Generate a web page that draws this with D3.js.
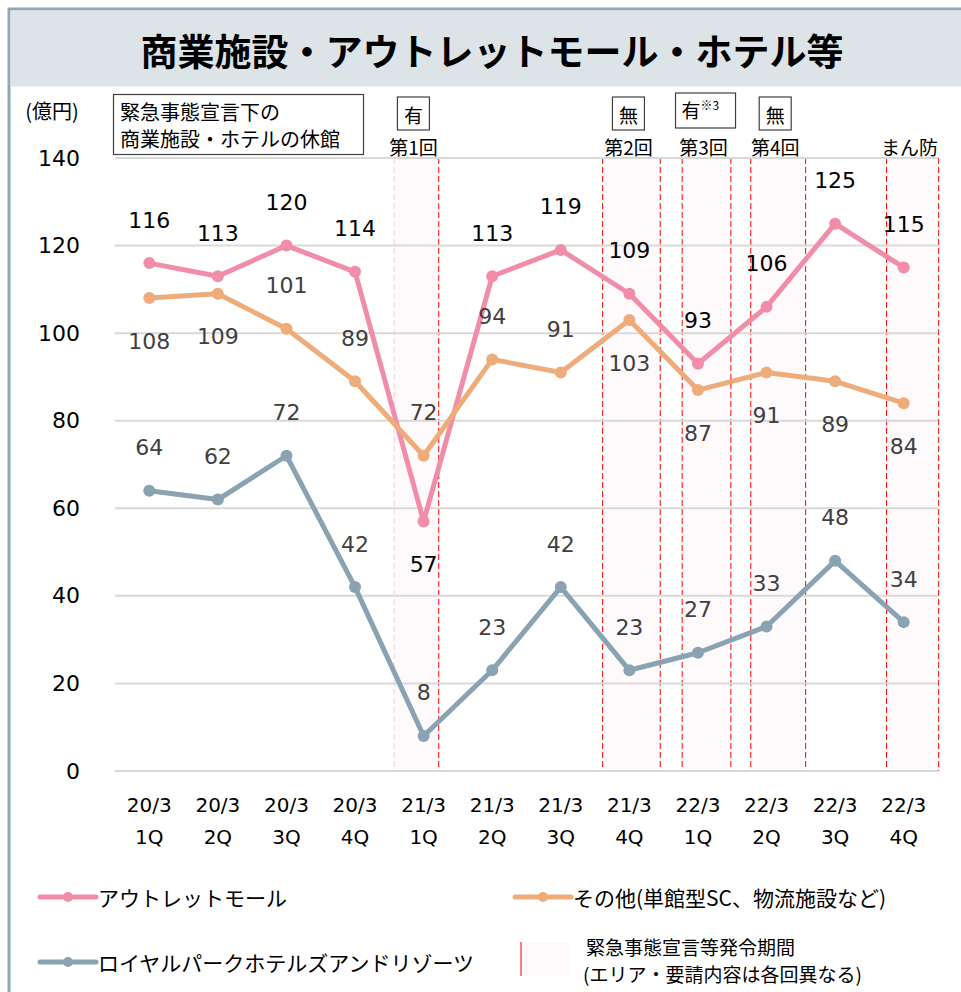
<!DOCTYPE html>
<html lang="ja">
<head>
  <meta charset="UTF-8">
  <title>商業施設・アウトレットモール・ホテル等</title>
  <script src="https://d3js.org/d3.v7.min.js"></script>
  <style>
    body { margin: 0; background: #fff; }
    svg { display: block; font-family: "DejaVu Sans", "Noto Sans CJK JP", sans-serif; }
    .jp { font-family: "Noto Sans CJK JP", sans-serif; }
    .grid line { stroke: #d9d9d9; stroke-width: 2px; }
    .line { fill: none; stroke-width: 5px; stroke-linejoin: round; }
  </style>
</head>
<body>
  <svg width="961" height="992"></svg>

  <script>
    // data
    const quarters = ["20/3 1Q", "20/3 2Q", "20/3 3Q", "20/3 4Q", "21/3 1Q", "21/3 2Q",
                      "21/3 3Q", "21/3 4Q", "22/3 1Q", "22/3 2Q", "22/3 3Q", "22/3 4Q"];
    const outlet = [116, 113, 120, 114, 57, 113, 119, 109, 93, 106, 125, 115];
    const others = [108, 109, 101, 89, 72, 94, 91, 103, 87, 91, 89, 84];
    const hotels = [64, 62, 72, 42, 8, 23, 42, 23, 27, 33, 48, 34];
    // 1 = label above the point, -1 = below
    const outletSide = [1, 1, 1, 1, -1, 1, 1, 1, 1, 1, 1, 1];
    const othersSide = [-1, -1, 1, 1, 1, 1, 1, -1, -1, -1, -1, -1];
    const hotelsSide = [1, 1, 1, 1, 1, 1, 1, 1, 1, 1, 1, 1];
    const yTicks = [0, 20, 40, 60, 80, 100, 120, 140];

    // emergency periods, in quarter units from 20/3 1Q start
    const emStart = [4.07, 7.11, 8.27, 9.27, 11.25];
    const emEnd = [4.72, 7.95, 8.98, 10.07, 12.01];
    const emName = ["第1回", "第2回", "第3回", "第4回", "まん防"];
    const emMark = ["有", "無", "有", "無", ""];
    const emNote = ["", "", "※3", "", ""];

    const series = [
      { name: "アウトレットモール", values: outlet, side: outletSide, color: "#f28da9", text: "#000" },
      { name: "その他(単館型SC、物流施設など)", values: others, side: othersSide, color: "#edac7a", text: "#404040" },
      { name: "ロイヤルパークホテルズアンドリゾーツ", values: hotels, side: hotelsSide, color: "#89a3b2", text: "#404040" }
    ];

    const svg = d3.select("svg");
    const pLeft = 115, pRight = 938, pTop = 158, pBottom = 771;

    const x = d3.scaleBand().domain(quarters).range([pLeft, pRight]);
    const t = d3.scaleLinear().domain([0, quarters.length]).range([pLeft, pRight]);
    const y = d3.scaleLinear().domain([0, 140]).range([pBottom, pTop]);

    // frame + title
    svg.append("rect").attr("x", 9).attr("y", 9).attr("width", 960).attr("height", 990)
      .attr("fill", "none").attr("stroke", "#8fa8b8").attr("stroke-width", 3);
    svg.append("rect").attr("x", 10.5).attr("y", 10.5).attr("width", 951).attr("height", 76)
      .attr("fill", "#dce4e8");
    svg.append("text").attr("class", "jp")
      .attr("x", 492).attr("y", 50)
      .attr("text-anchor", "middle").attr("dominant-baseline", "central")
      .attr("font-size", 37).attr("font-weight", "bold")
      .text("商業施設・アウトレットモール・ホテル等");

    // emergency shading
    const em = svg.append("g");
    emStart.forEach((s, i) => {
      const x0 = t(s), x1 = t(emEnd[i]);
      em.append("rect").attr("x", x0).attr("y", pTop).attr("width", x1 - x0).attr("height", pBottom - pTop)
        .attr("fill", "#fefafb");
      em.append("line").attr("x1", x0).attr("x2", x0).attr("y1", pTop).attr("y2", pBottom)
        .attr("stroke", i === 0 ? "#f8c8d2" : "#f00").attr("stroke-width", 1).attr("stroke-dasharray", "6,3");
      em.append("line").attr("x1", x1).attr("x2", x1).attr("y1", pTop).attr("y2", pBottom)
        .attr("stroke", "#f00").attr("stroke-width", 1).attr("stroke-dasharray", "6,3");

      const cx = (x0 + x1) / 2 - 3;
      em.append("text").attr("class", "jp")
        .attr("x", cx).attr("y", 146)
        .attr("text-anchor", "middle").attr("dominant-baseline", "central")
        .attr("font-size", 19).attr("fill", "#000")
        .text(emName[i]);
      if (emMark[i]) {
        const w = emNote[i] ? 60 : 32;
        const bx = cx - w / 2 + (emNote[i] ? 2 : 0);
        em.append("rect").attr("x", bx).attr("y", emNote[i] ? 93 : 97).attr("width", w).attr("height", emNote[i] ? 35 : 33)
          .attr("fill", "#fff").attr("stroke", "#404040").attr("stroke-width", 1.2);
        const tx = em.append("text").attr("class", "jp")
          .attr("x", bx + (emNote[i] ? 6 : w / 2)).attr("y", emNote[i] ? 109 : 114)
          .attr("text-anchor", emNote[i] ? "start" : "middle").attr("dominant-baseline", "central")
          .attr("font-size", 19).attr("fill", "#000");
        tx.append("tspan").text(emMark[i]);
        if (emNote[i]) tx.append("tspan").attr("font-size", 12).attr("dy", -5).text(emNote[i]);
      }
    });

    // grid
    svg.append("g").attr("class", "grid")
      .selectAll("line").data(yTicks).join("line")
      .attr("x1", pLeft).attr("x2", pRight)
      .attr("y1", d => y(d)).attr("y2", d => y(d));

    // y axis labels
    svg.append("g").selectAll("text").data(yTicks).join("text")
      .attr("x", 80).attr("y", d => y(d))
      .attr("text-anchor", "end").attr("dominant-baseline", "central")
      .attr("font-size", 22).attr("fill", "#000")
      .text(d => d);
    svg.append("text").attr("class", "jp")
      .attr("x", 52).attr("y", 110)
      .attr("text-anchor", "middle").attr("dominant-baseline", "central")
      .attr("font-size", 20).text("(億円)");

    // note box
    svg.append("rect").attr("x", 113.5).attr("y", 94.5).attr("width", 250).attr("height", 60)
      .attr("fill", "#fff").attr("stroke", "#404040").attr("stroke-width", 1.2);
    ["緊急事態宣言下の", "商業施設・ホテルの休館"].forEach((s, i) => {
      svg.append("text").attr("class", "jp")
        .attr("x", 120).attr("y", 111 + i * 27)
        .attr("dominant-baseline", "central")
        .attr("font-size", 20).text(s);
    });

    // x axis labels
    const xl = svg.append("g").selectAll("text").data(quarters).join("text")
      .attr("text-anchor", "middle").attr("font-size", 20).attr("fill", "#000");
    xl.append("tspan").attr("x", d => x(d) + x.bandwidth() / 2).attr("y", 812).text(d => d.split(" ")[0]);
    xl.append("tspan").attr("x", d => x(d) + x.bandwidth() / 2).attr("y", 844).text(d => d.split(" ")[1]);

    // lines
    const cx = i => x(quarters[i]) + x.bandwidth() / 2;
    const line = d3.line().x((d, i) => cx(i)).y(d => y(d));

    series.forEach(s => {
      svg.append("path").datum(s.values)
        .attr("class", "line").attr("stroke", s.color).attr("d", line);
      svg.append("g").selectAll("circle").data(s.values).join("circle")
        .attr("cx", (d, i) => cx(i)).attr("cy", d => y(d)).attr("r", 6)
        .attr("fill", s.color);
    });

    series.forEach(s => {
      svg.append("g").selectAll("text").data(s.values).join("text")
        .attr("x", (d, i) => cx(i))
        .attr("y", (d, i) => y(d) - 43 * s.side[i])
        .attr("text-anchor", "middle").attr("dominant-baseline", "central")
        .attr("font-size", 22).attr("fill", s.text)
        .text(d => d);
    });

    // legend
    const legendPos = [[40, 897], [515, 897], [40, 962]];
    series.forEach((s, i) => {
      const [lx, ly] = legendPos[i];
      const g = svg.append("g").attr("transform", `translate(${lx},${ly})`);
      g.append("line").attr("x1", 0).attr("x2", 56).attr("stroke", s.color)
        .attr("stroke-width", 5).attr("stroke-linecap", "round");
      g.append("circle").attr("cx", 28).attr("r", 5).attr("fill", s.color);
      g.append("text").attr("class", "jp").attr("x", 58)
        .attr("dominant-baseline", "central").attr("font-size", 21).text(s.name);
    });
    svg.append("rect").attr("x", 521).attr("y", 942).attr("width", 49).attr("height", 34)
      .attr("fill", "#fefafb");
    svg.append("line").attr("x1", 521).attr("x2", 521).attr("y1", 942).attr("y2", 976)
      .attr("stroke", "#f00").attr("stroke-width", 1);
    ["緊急事態宣言等発令期間", "(エリア・要請内容は各回異なる)"].forEach((s, i) => {
      svg.append("text").attr("class", "jp")
        .attr("x", i === 0 ? 586 : 583).attr("y", 946 + i * 27)
        .attr("dominant-baseline", "central")
        .attr("font-size", 19).text(s);
    });
  </script>
</body>
</html>
